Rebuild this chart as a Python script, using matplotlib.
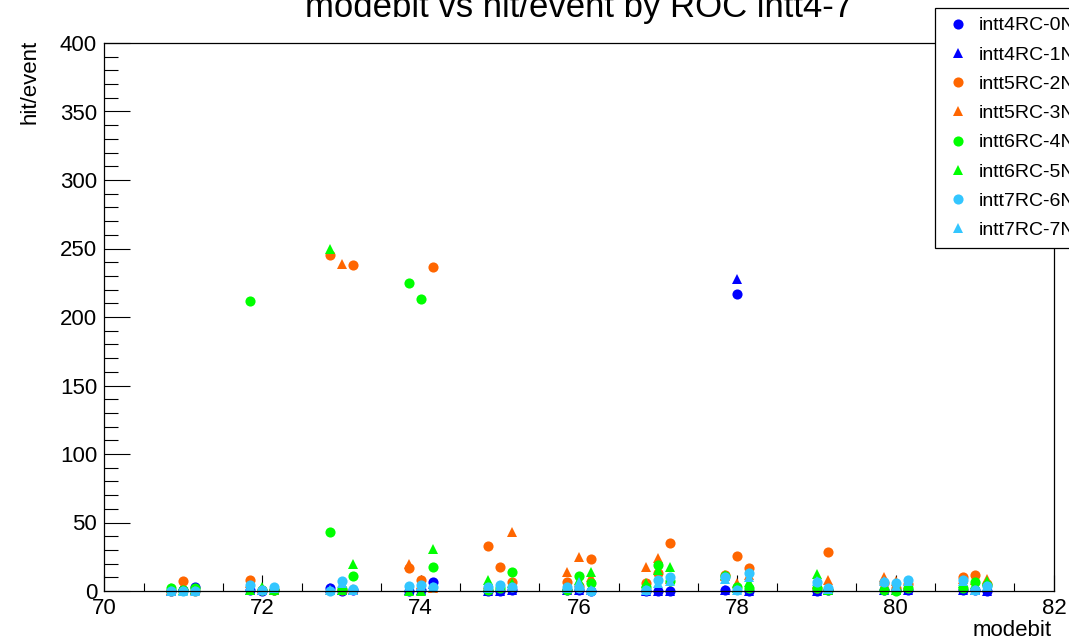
import numpy as np
import matplotlib
matplotlib.use("Agg")
import matplotlib.pyplot as plt
from matplotlib.ticker import MultipleLocator

plt.rcParams['font.family'] = ['Liberation Sans', 'DejaVu Sans']

modebits = [71, 72, 73, 74, 75, 76, 77, 78, 79, 80, 81]
nan = np.nan

labels = ["intt4RC-0N", "intt4RC-1N", "intt5RC-2N", "intt5RC-3N",
          "intt6RC-4N", "intt6RC-5N", "intt7RC-6N", "intt7RC-7N"]
colors = ["#0000ff", "#0000ff", "#ff6600", "#ff6600",
          "#00ff00", "#00ff00", "#33c6ff", "#33c6ff"]
markers = ["o", "^", "o", "^", "o", "^", "o", "^"]

# three sub-points per modebit (left, centre, right)
intt4_rc0 = [0.3, 1.0, 3.2, 0.5, 0.3, 0.5, 2.5, 0.3, 0.5, 0.3, 0.5, 6.5,
             0.3, 0.3, 0.5, 0.5, 0.5, 0.3, 0.3, 0.2, 0.2, 0.5, 217, 0.2,
             nan, 0.2, 0.5, 0.5, 0.5, 1.0, 0.5, 0.5, 0.3]
intt4_rc1 = [0.2, 3.5, 0.5, 1.0, 0.5, 0.5, 2.0, 0.5, 0.5, 0.5, 0.5, 5.0,
             0.2, 0.2, 0.5, 0.5, 1.0, 0.5, 0.3, 0.2, 0.2, 0.5, 228, 0.2,
             nan, 0.3, 0.5, 0.5, 1.0, 1.0, 1.0, 1.0, 0.2]
intt5_rc2 = [0.3, 7.3, 0.3, 8.0, 1.0, 0.5, 245, 0.5, 238, 17, 8.0, 236.5,
             33, 17.8, 6.8, 6.8, 4.0, 23.6, 5.6, 13, 35, 12, 25.5, 16.5,
             nan, 2.0, 28.7, 6.0, 2.0, 5.0, 10, 11.7, 5.0]
intt5_rc3 = [0.5, 2.0, 0.5, 6.0, 2.0, 1.0, 1.0, 239, 1.5, 20, 5.0, 2.0,
             5.0, 3.0, 43.3, 14, 25, 10, 17.8, 23.8, 9.0, 11, 5.6, 12,
             nan, 5.0, 8.0, 10.5, 7.0, 5.0, 9.0, 8.0, 9.0]
intt6_rc4 = [2.0, 0.7, 2.0, 212, 1.0, 0.5, 43, 1.2, 10.7, 225, 213, 17.8,
             1.0, 2.0, 13.6, 0.5, 11, 5.6, 3.0, 19, 7.0, 11, 3.0, 2.0,
             nan, 2.0, 0.5, 0.7, 0.3, 2.0, 2.0, 6.8, 4.5]
intt6_rc5 = [2.5, 1.0, 1.5, 1.0, 3.2, 0.5, 249.6, 1.0, 19.5, 0.3, 0.3, 31,
             8.0, 3.0, 6.0, 3.0, 8.0, 14, 5.6, 15, 17.8, 12, 2.0, 6.8,
             nan, 12.4, 1.0, 3.0, 1.0, 4.0, 6.0, 5.0, 7.0]
intt7_rc6 = [0.3, 0.3, 0.3, 4.4, 0.7, 3.2, 0.3, 7.5, 1.2, 3.6, 4.4, 2.7,
             2.7, 4.4, 2.7, 2.7, 2.0, 0.3, 0.7, 8.0, 10, 10, 0.7, 13,
             nan, 6.8, 2.0, 6.8, 5.6, 8.0, 8.0, 0.7, 3.6]
intt7_rc7 = [0.3, 0.3, 0.3, 3.5, 0.5, 2.5, 0.5, 6.0, 1.0, 3.0, 4.0, 3.0,
             2.0, 4.0, 3.0, 2.0, 6.8, 0.5, 0.5, 6.0, 7.0, 9.0, 0.5, 10,
             nan, 7.0, 1.5, 7.0, 4.0, 7.0, 7.0, 1.0, 4.0]

series = [intt4_rc0, intt4_rc1, intt5_rc2, intt5_rc3,
          intt6_rc4, intt6_rc5, intt7_rc6, intt7_rc7]

W, H = 1069, 642
fig = plt.figure(figsize=(W / 100, H / 100), dpi=100)
ax = fig.add_axes([104 / W, 1 - 591 / H, (1054 - 104) / W, (591 - 43) / H])

offsets = np.array([-0.15, 0.0, 0.15])
xs = (np.array(modebits)[:, None] + offsets[None, :]).ravel()

handles = []
for vals, lab, col, mk in zip(series, labels, colors, markers):
    h, = ax.plot(xs, vals, linestyle='none', marker=mk, color=col,
                 markersize=7.3 if mk == 'o' else 7.8, markeredgewidth=0,
                 label=lab, clip_on=False)
    handles.append(h)

ax.set_xlim(70, 82)
ax.set_ylim(0, 400)
ax.xaxis.set_major_locator(MultipleLocator(2))
ax.xaxis.set_minor_locator(MultipleLocator(0.5))
ax.yaxis.set_major_locator(MultipleLocator(50))
ax.yaxis.set_minor_locator(MultipleLocator(10))
ax.tick_params(axis='x', which='major', direction='in', length=11.5, width=0.8,
               labelsize=16, pad=5, top=False)
ax.tick_params(axis='x', which='minor', direction='in', length=5.8, width=0.8, top=False)
ax.tick_params(axis='y', which='major', direction='in', length=19, width=0.8,
               labelsize=16, pad=5, right=False)
ax.tick_params(axis='y', which='minor', direction='in', length=10, width=0.8, right=False)
for sp in ax.spines.values():
    sp.set_linewidth(0.9)

fig.text(579 / W, 1 - 17 / H, "modebit vs hit/event by ROC intt4-7",
         ha='center', va='baseline', fontsize=25)
fig.text(30 / W, 1 - 40 / H, "hit/event", rotation=90, ha='center', va='top',
         fontsize=16)
fig.text(1052 / W, 1 - 630 / H, "modebit", ha='right', va='center', fontsize=16)

leg = ax.legend(handles=handles, loc='upper left', mode='expand',
                bbox_to_anchor=(935 / W, 0, 200 / W, 1 - 8 / H),
                bbox_transform=fig.transFigure,
                frameon=True, fancybox=False, framealpha=1, edgecolor='black',
                fontsize=14, labelspacing=0.6, borderpad=0.45, handlelength=1.42,
                handletextpad=0.39, borderaxespad=0, markerscale=1.0)
leg.get_frame().set_linewidth(0.9)
leg.set_zorder(10)

fig.savefig("out.png", dpi=100)
